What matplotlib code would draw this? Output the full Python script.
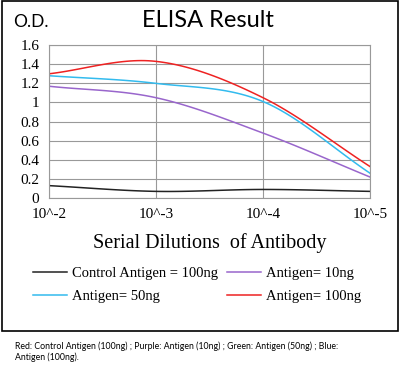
import numpy as np
import matplotlib.pyplot as plt
from matplotlib.patches import Rectangle

# ELISA titration curves
dilutions = ["10^-2", "10^-3", "10^-4", "10^-5"]
control_100 = [0.13, 0.07, 0.09, 0.07]
antigen_10 = [1.17, 1.05, 0.68, 0.22]
antigen_50 = [1.28, 1.20, 1.01, 0.26]
antigen_100 = [1.30, 1.43, 1.05, 0.33]

series = [
    ("Control Antigen = 100ng", control_100, "#222222"),
    ("Antigen= 10ng", antigen_10, "#9966cc"),
    ("Antigen= 50ng", antigen_50, "#33bbee"),
    ("Antigen= 100ng", antigen_100, "#ee2222"),
]


def smooth(x, y, n=30):
    # Catmull-Rom style smoothing, like the spreadsheet "smoothed line"
    x = np.asarray(x, float)
    y = np.asarray(y, float)
    px = np.concatenate([[2 * x[0] - x[1]], x, [2 * x[-1] - x[-2]]])
    py = np.concatenate([[2 * y[0] - y[1]], y, [2 * y[-1] - y[-2]]])
    xs, ys = [], []
    t = np.linspace(0, 1, n)
    for i in range(1, len(px) - 2):
        p0, p1, p2, p3 = [np.array([px[j], py[j]]) for j in range(i - 1, i + 3)]
        c1 = p1 + (p2 - p0) / 6
        c2 = p2 - (p3 - p1) / 6
        pts = ((1 - t) ** 3)[:, None] * p1 + (3 * (1 - t) ** 2 * t)[:, None] * c1 \
            + (3 * (1 - t) * t ** 2)[:, None] * c2 + (t ** 3)[:, None] * p2
        xs.extend(pts[:, 0])
        ys.extend(pts[:, 1])
    return xs, ys


fig = plt.figure(figsize=(4.0, 3.73), dpi=100)
ax = fig.add_axes([0.1225, 0.469, 0.8025, 0.41])

xpos = np.arange(len(dilutions))
lines = []
for label, vals, color in series:
    sx, sy = smooth(xpos, vals)
    ln, = ax.plot(sx, sy, color=color, lw=1.1, label=label)
    lines.append(ln)

ax.set_xlim(0, 3)
ax.set_ylim(0, 1.6)
ax.set_yticks(np.arange(0, 1.61, 0.2))
ax.set_yticklabels(["0", "0.2", "0.4", "0.6", "0.8", "1", "1.2", "1.4", "1.6"])
ax.set_xticks(xpos)
ax.set_xticklabels(dilutions)
ax.grid(True, color="#999999", lw=0.8)
ax.tick_params(length=0, labelsize=11, pad=7)
for lab in ax.get_xticklabels() + ax.get_yticklabels():
    lab.set_family("Liberation Serif")
for s in ax.spines.values():
    s.set_color("#999999")

ax.set_xlabel("Serial Dilutions  of Antibody", family="Liberation Serif", fontsize=14.5, labelpad=9)

fig.text(0.52, 0.945, "ELISA Result", ha="center", va="center", fontsize=17, family="Lato")
fig.text(0.032, 0.94, "O.D.", ha="left", va="center", fontsize=12.5, family="Lato")

# legend rows: control / 10ng on top, 50ng / 100ng below
order = [0, 2, 1, 3]
fig.legend([lines[i] for i in order], [lines[i].get_label() for i in order],
           loc="upper left", bbox_to_anchor=(0.0825, 0.285), ncol=2, frameon=False,
           borderpad=0, borderaxespad=0,
           prop={"family": "Liberation Serif", "size": 10.5},
           handlelength=2.3, handletextpad=0.4, columnspacing=0.6, labelspacing=0.7)

# outer border around the chart
fig.patches.append(Rectangle((0.004, 0.113), 0.992, 0.884, transform=fig.transFigure,
                             fill=False, ec="black", lw=1.2))

fig.text(0.038, 0.057, "Red: Control Antigen (100ng) ; Purple: Antigen (10ng) ; Green: Antigen (50ng) ; Blue:\nAntigen (100ng).",
         ha="left", va="center", fontsize=6.3, family="Lato", linespacing=1.15)

fig.savefig("out.png", dpi=100)
